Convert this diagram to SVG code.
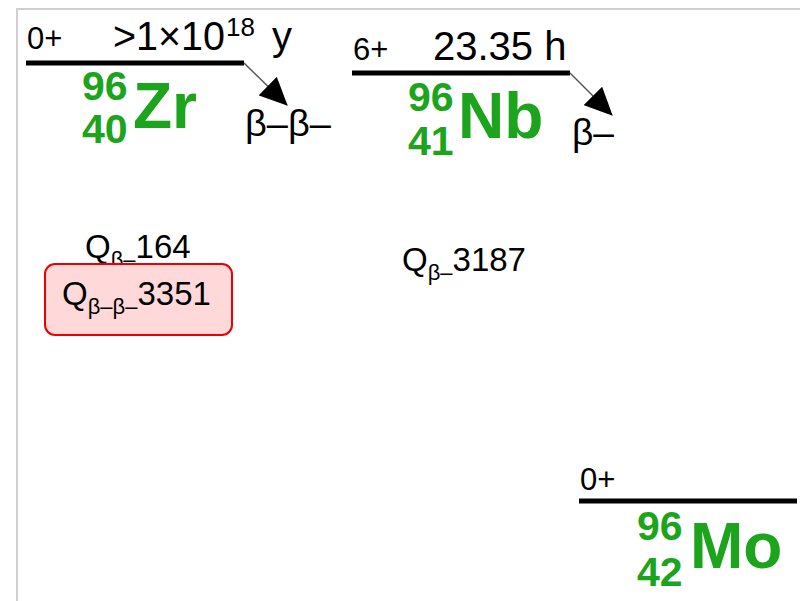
<svg xmlns="http://www.w3.org/2000/svg" width="800" height="601" viewBox="0 0 800 601">
<style>
.t{font-family:"Liberation Sans",Arial,sans-serif;fill:#000}
.g{font-family:"Liberation Sans",Arial,sans-serif;fill:#1ca51c;font-weight:bold}
.lvl{stroke:#000;stroke-width:5}
.arr{stroke:#555;stroke-width:1.5;fill:none;marker-end:url(#ah)}
.frame{stroke:#d0d0d0;stroke-width:2;fill:none}
</style>
<defs>
<marker id="ah" markerUnits="userSpaceOnUse" markerWidth="28" markerHeight="26" viewBox="0 0 28 26" refX="27" refY="13" orient="auto">
<path d="M0,0 L28,13 L0,26 Z" fill="#000"/>
</marker>
</defs>
<rect width="800" height="601" fill="#fff"/>
<path class="frame" d="M17,601 V9 H800"/>
<g id="zr96">
<line class="lvl" x1="26" y1="63" x2="244" y2="63"/>
<text class="t" x="27" y="49" font-size="31">0+</text>
<text class="t" x="113" y="50" font-size="40" textLength="112" lengthAdjust="spacingAndGlyphs">&gt;1×10</text>
<text class="t" x="226" y="36" font-size="26">18</text>
<text class="t" x="272" y="50" font-size="40">y</text>
<text class="g" x="82" y="100" font-size="41">96</text>
<text class="g" x="82" y="143" font-size="41">40</text>
<text class="g" x="133" y="128" font-size="64">Zr</text>
<text class="t" x="245" y="136" font-size="36" textLength="86" lengthAdjust="spacingAndGlyphs">β–β–</text>
</g>
<g id="nb96">
<line class="lvl" x1="352" y1="73" x2="570" y2="73"/>
<text class="t" x="353" y="60" font-size="31">6+</text>
<text class="t" x="433" y="60" font-size="40">23.35 h</text>
<text class="g" x="408" y="111" font-size="41">96</text>
<text class="g" x="408" y="155" font-size="41">41</text>
<text class="g" x="458" y="138" font-size="64">Nb</text>
<text class="t" x="572" y="145" font-size="36" textLength="42" lengthAdjust="spacingAndGlyphs">β–</text>
</g>
<g id="mo96">
<line class="lvl" x1="579" y1="501" x2="797" y2="501"/>
<text class="t" x="580" y="490" font-size="31">0+</text>
<text class="g" x="637" y="540" font-size="41">96</text>
<text class="g" x="637" y="586" font-size="41">42</text>
<text class="g" x="690" y="568" font-size="64">Mo</text>
</g>
<g id="q-zr">
<text class="t" x="85" y="258" font-size="33">Q<tspan font-size="22" dy="9">β–</tspan><tspan dy="-9">164</tspan></text>
</g>
<g id="q-zr-bb">
<rect x="45" y="264" width="187" height="71" rx="10" fill="#ffd9d9" stroke="#e00" stroke-width="2"/>
<text class="t" x="62" y="305" font-size="33">Q<tspan font-size="22" dy="9">β–β–</tspan><tspan dy="-9">3351</tspan></text>
</g>
<g id="q-nb">
<text class="t" x="402" y="271" font-size="33">Q<tspan font-size="22" dy="9">β–</tspan><tspan dy="-9">3187</tspan></text>
</g>
<g id="connectors">
<line class="arr" x1="244" y1="63" x2="287" y2="105"/>
<line class="arr" x1="570" y1="73" x2="612" y2="115"/>
</g>
</svg>
